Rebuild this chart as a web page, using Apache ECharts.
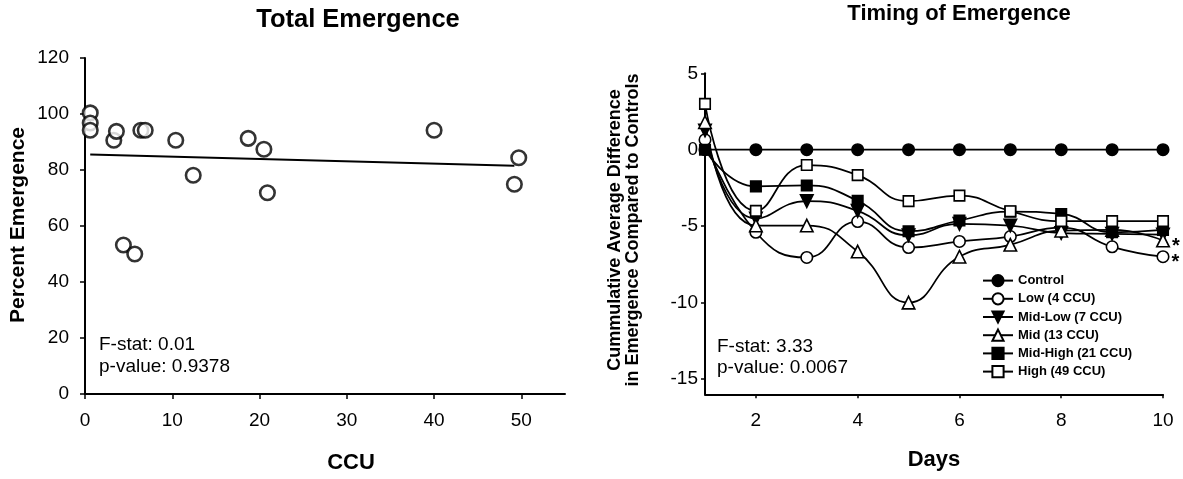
<!DOCTYPE html>
<html><head><meta charset="utf-8">
<script src="https://cdn.jsdelivr.net/npm/echarts@6/dist/echarts.min.js"></script>
<style>html,body{margin:0;padding:0;background:#fff}#c{width:1183px;height:479px}</style>
</head><body><div id="c"></div>
<script>
// ---- Left panel: Total Emergence ----
const ccu = [0.6, 0.6, 0.6, 3.3, 3.6, 4.4, 5.7, 6.4, 6.9, 10.4, 12.4, 18.7, 20.5, 20.9, 40.0, 49.2, 49.7];
const pctEmergence = [100.4, 96.8, 94.2, 90.6, 93.8, 53.2, 50.0, 94.2, 94.2, 90.6, 78.1, 91.3, 87.4, 71.9, 94.2, 74.9, 84.4];
const trendX = [0.6, 49.2];
const trendY = [85.5, 81.5];
const leftXTicks = [0, 10, 20, 30, 40, 50];
const leftYTicks = [0, 20, 40, 60, 80, 100, 120];

// ---- Right panel: Timing of Emergence ----
const days = [1, 2, 3, 4, 5, 6, 7, 8, 9, 10];
const control = [0, 0, 0, 0, 0, 0, 0, 0, 0, 0];
const low     = [0.65, -5.4, -7.05, -4.7, -6.4, -6.0, -5.68, -5.1, -6.35, -7.0];
const midLow  = [1.26, -4.5, -3.36, -4.0, -5.6, -4.85, -4.96, -5.45, -5.5, -5.55];
const mid     = [1.8, -4.96, -4.96, -6.66, -10.0, -7.0, -6.22, -5.3, -5.25, -5.94];
const midHigh = [0, -2.4, -2.34, -3.34, -5.33, -4.63, -4.05, -4.2, -5.4, -5.24];
const high    = [3.0, -4.0, -1.0, -1.66, -3.36, -3.0, -4.02, -4.67, -4.67, -4.67];
const rightXTicks = [2, 4, 6, 8, 10];
const rightYTicks = [-15, -10, -5, 0, 5];
const seriesNames = ['Control', 'Low (4 CCU)', 'Mid-Low (7 CCU)', 'Mid (13 CCU)', 'Mid-High (21 CCU)', 'High (49 CCU)'];

const FONT = '"Liberation Sans", Arial, sans-serif';
const chart = echarts.init(document.getElementById('c'));

function lineSeries(name, values, symbol, filled, size, rotate, starLast) {
  const data = values.map((v, i) => {
    const item = { value: [days[i], v] };
    if (starLast && i === values.length - 1) {
      item.label = { show: true, formatter: '*', position: 'right', distance: 2,
        color: '#000', fontFamily: FONT, fontWeight: 'bold', fontSize: 20, offset: [0, 6] };
    }
    return item;
  });
  return {
    type: 'line', name, xAxisIndex: 1, yAxisIndex: 1, data,
    smooth: 0.5, symbol, symbolSize: size, symbolRotate: rotate || 0,
    showAllSymbol: true,
    lineStyle: { color: '#000', width: 1.75 },
    itemStyle: { color: filled ? '#000' : '#fff', borderColor: '#000', borderWidth: 1.6 },
    emphasis: { disabled: true }, animation: false
  };
}

const axisBase = {
  axisLine: { show: true, onZero: false, lineStyle: { color: '#000', width: 2 } },
  splitLine: { show: false },
  axisLabel: { color: '#000', fontFamily: FONT, fontSize: 19 }
};

const option = {
  animation: false,
  backgroundColor: '#fff',
  grid: [
    { left: 85, right: 618, top: 58, bottom: 85 },
    { left: 705, right: 20, top: 73.3, bottom: 84.7 }
  ],
  xAxis: [
    Object.assign({}, axisBase, { type: 'value', gridIndex: 0, min: 0, max: 55,
      axisTick: { show: true, inside: false, length: 5, lineStyle: { color: '#000', width: 1.5 }, customValues: leftXTicks },
      axisLabel: Object.assign({}, axisBase.axisLabel, { margin: 17, customValues: leftXTicks }) }),
    Object.assign({}, axisBase, { type: 'value', gridIndex: 1, min: 1, max: 10,
      axisTick: { show: true, inside: false, length: 4, lineStyle: { color: '#000', width: 1.5 }, customValues: rightXTicks },
      axisLabel: Object.assign({}, axisBase.axisLabel, { margin: 17, customValues: rightXTicks }) })
  ],
  yAxis: [
    Object.assign({}, axisBase, { type: 'value', gridIndex: 0, min: 0, max: 120,
      axisTick: { show: true, inside: false, length: 5, lineStyle: { color: '#000', width: 1.5 }, customValues: leftYTicks },
      axisLabel: Object.assign({}, axisBase.axisLabel, { margin: 16, customValues: leftYTicks }) }),
    Object.assign({}, axisBase, { type: 'value', gridIndex: 1, min: -16, max: 5,
      axisTick: { show: true, inside: false, length: 4, lineStyle: { color: '#000', width: 1.5 }, customValues: rightYTicks },
      axisLabel: Object.assign({}, axisBase.axisLabel, { margin: 7, customValues: rightYTicks }) })
  ],
  legend: {
    orient: 'vertical', left: 982, top: 274, padding: 0,
    itemWidth: 30, itemHeight: 14, itemGap: 5,
    data: seriesNames,
    textStyle: { color: '#000', fontFamily: FONT, fontWeight: 'bold', fontSize: 13 },
    selectedMode: false
  },
  series: [
    {
      type: 'line', xAxisIndex: 0, yAxisIndex: 0,
      data: trendX.map((x, i) => [x, trendY[i]]),
      symbol: 'none', lineStyle: { color: '#000', width: 2 }, z: 2, silent: true
    },
    {
      type: 'scatter', xAxisIndex: 0, yAxisIndex: 0,
      data: ccu.map((x, i) => [x, pctEmergence[i]]),
      symbol: 'circle', symbolSize: 14.5,
      itemStyle: { color: '#fff', borderColor: '#000', borderWidth: 2.6 }, z: 3, silent: true
    },
    lineSeries(seriesNames[0], control, 'circle', true, 11.5, 0, false),
    lineSeries(seriesNames[1], low, 'circle', false, 11.5, 0, true),
    lineSeries(seriesNames[2], midLow, 'triangle', true, 12.5, 180, false),
    lineSeries(seriesNames[3], mid, 'triangle', false, 12.5, 0, true),
    lineSeries(seriesNames[4], midHigh, 'rect', true, 10.5, 0, false),
    lineSeries(seriesNames[5], high, 'rect', false, 10.5, 0, false)
  ],
  graphic: [
    { type: 'text', x: 358, y: 20, style: { text: 'Total Emergence', font: 'bold 25.5px ' + FONT, fill: '#000', textAlign: 'center', textVerticalAlign: 'middle' } },
    { type: 'text', x: 959, y: 14, style: { text: 'Timing of Emergence', font: 'bold 22px ' + FONT, fill: '#000', textAlign: 'center', textVerticalAlign: 'middle' } },
    { type: 'text', x: 18, y: 225, rotation: Math.PI / 2, style: { text: 'Percent Emergence', font: 'bold 21px ' + FONT, fill: '#000', textAlign: 'center', textVerticalAlign: 'middle' } },
    { type: 'text', x: 624, y: 230, rotation: Math.PI / 2, style: { text: 'Cummulative Average Difference\nin Emergence Compared to Controls', font: 'bold 18px ' + FONT, lineHeight: 18, fill: '#000', textAlign: 'center', textVerticalAlign: 'middle' } },
    { type: 'text', x: 351, y: 463, style: { text: 'CCU', font: 'bold 22px ' + FONT, fill: '#000', textAlign: 'center', textVerticalAlign: 'middle' } },
    { type: 'text', x: 934, y: 460, style: { text: 'Days', font: 'bold 22px ' + FONT, fill: '#000', textAlign: 'center', textVerticalAlign: 'middle' } },
    { type: 'text', x: 99, y: 345, style: { text: 'F-stat: 0.01', font: '19px ' + FONT, fill: '#000', textVerticalAlign: 'middle' } },
    { type: 'text', x: 99, y: 367, style: { text: 'p-value: 0.9378', font: '19px ' + FONT, fill: '#000', textVerticalAlign: 'middle' } },
    { type: 'text', x: 717, y: 347, style: { text: 'F-stat: 3.33', font: '19px ' + FONT, fill: '#000', textVerticalAlign: 'middle' } },
    { type: 'text', x: 717, y: 368, style: { text: 'p-value: 0.0067', font: '19px ' + FONT, fill: '#000', textVerticalAlign: 'middle' } }
  ]
};
chart.setOption(option);
</script>
</body></html>
